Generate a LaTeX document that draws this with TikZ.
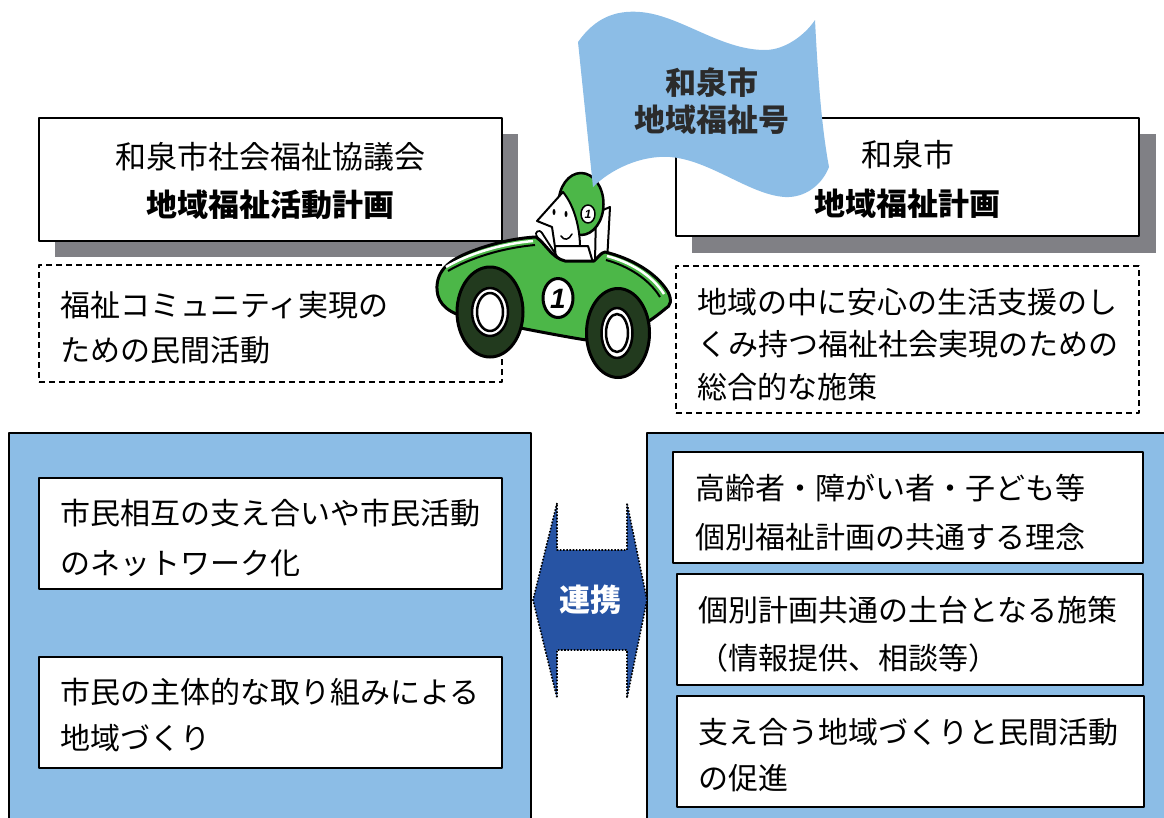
\documentclass[tikz,border=0pt]{standalone}
\usepackage{fontspec}
\newfontfamily\jp{Noto Sans CJK JP}
\newfontfamily\numfont{Liberation Sans}
\definecolor{lblue}{RGB}{140,189,230}
\definecolor{shadowgray}{RGB}{128,128,133}
\definecolor{cargreen}{RGB}{76,183,72}
\definecolor{tire}{RGB}{34,58,30}
\definecolor{linkblue}{RGB}{39,84,164}
\definecolor{flagink}{RGB}{43,43,43}
% strut giving every text line the same height and depth
\newcommand\lnstrut{\rule[-0.12em]{0pt}{1em}}
\begin{document}
\begin{tikzpicture}[x=1pt,y=-1pt,line join=round,
  every node/.style={inner sep=0pt,outer sep=0pt},
  plainbox/.style={draw=black,line width=1.8pt,fill=white},
  dashbox/.style={draw=black,line width=1.5pt,dash pattern=on 6pt off 4pt},
  panel/.style={draw=black,line width=1.5pt,fill=lblue},
  headtext/.style={font={\jp\fontsize{31}{#1}\selectfont},align=center},
  bodytext/.style={font={\jp\fontsize{30}{#1}\selectfont},align=left,anchor=west},
  outline/.style={draw=black,line width=2pt},
  numtext/.style={font={\numfont\bfseries\itshape\fontsize{#1}{#1}\selectfont}},
  dotborder/.style={draw=black,line width=1.6pt,dash pattern=on 1.6pt off 1.6pt}
]
\useasboundingbox (0,0) rectangle (1164,817);

% ---------- upper plans ----------
\fill[shadowgray] (55,134) rectangle (518,257);
\fill[shadowgray] (692,134) rectangle (1156,253);

\node[plainbox,minimum width=463pt,minimum height=123pt] (hdrL) at (270.5,179.5) {};
\node[headtext=48] (hdrLtext) at (270.5,181) {和泉市社会福祉協議会\\\bfseries 地域福祉活動計画};

\node[plainbox,minimum width=463pt,minimum height=118pt] (hdrR) at (907.5,177) {};
\node[headtext=49] (hdrRtext) at (907.5,179.5) {和泉市\\\bfseries 地域福祉計画};

\node[dashbox,minimum width=463pt,minimum height=117pt] (dashL) at (270.5,323.5) {};
\node[bodytext=45] (dashLtext) at (60,327.5) {\lnstrut 福祉コミュニティ実現の\\\lnstrut ための民間活動};

\node[dashbox,minimum width=463pt,minimum height=147pt] (dashR) at (907.5,339.5) {};
\node[bodytext=42.5] (dashRtext) at (697,344.5) {\lnstrut 地域の中に安心の生活支援のし\\\lnstrut くみ持つ福祉社会実現のための\\\lnstrut 総合的な施策};

% ---------- lower panels ----------
\draw[panel] (9,433) rectangle (531,830);
\draw[panel] (647,433) rectangle (1180,830);

\node[plainbox,minimum width=463pt,minimum height=111pt] (boxL1) at (270.5,533.5) {};
\node[bodytext=50] (boxL1text) at (60,538) {\lnstrut 市民相互の支え合いや市民活動\\\lnstrut のネットワーク化};

\node[plainbox,minimum width=463pt,minimum height=111pt] (boxL2) at (270.5,712.5) {};
\node[bodytext=46] (boxL2text) at (60,715) {\lnstrut 市民の主体的な取り組みによる\\\lnstrut 地域づくり};

\node[plainbox,minimum width=470pt,minimum height=111pt] (boxR1) at (908,507.5) {};
\node[bodytext=49] (boxR1text) at (695,512.5) {\lnstrut 高齢者・障がい者・子ども等\\\lnstrut 個別福祉計画の共通する理念};

\node[plainbox,minimum width=466pt,minimum height=111pt] (boxR2) at (910,629.5) {};
\node[bodytext=48] (boxR2text) at (698,634) {\lnstrut 個別計画共通の土台となる施策\\\lnstrut （情報提供、相談等）};

\node[plainbox,minimum width=467pt,minimum height=111pt] (boxR3) at (910.5,751.5) {};
\node[bodytext=46] (boxR3text) at (698,755) {\lnstrut 支え合う地域づくりと民間活動\\\lnstrut の促進};

% double-headed link between the panels
\path[fill=linkblue,dotborder] (557,503) -- (533,600) -- (557,698) -- (557,650) -- (627,650)
  -- (627,698) -- (647,600) -- (627,503) -- (627,550) -- (557,550) -- cycle;
\node[font={\jp\bfseries\fontsize{31}{31}\selectfont},text=white] (link) at (590,600) {連携};

% ---------- car and driver ----------
% seat back
\path[outline,fill=white] (596,213) -- (610,207) -- (607,262) -- (595,262) -- cycle;
% helmet
\path[outline,line width=2.5pt,fill=cargreen] (581,204) ellipse [x radius=22.5,y radius=31];
% face
\path[outline,fill=white] (563,192) -- (537,221) -- (552,227) -- (555,247) -- (580,247)
  .. controls (580,232) and (576,208) .. (563,192) -- cycle;
\fill (554,212) ellipse [x radius=1.5,y radius=3];
\fill (566,214) ellipse [x radius=1.5,y radius=3];
\draw[line width=1.5pt,line cap=round] (561,236) .. controls (564,241) and (569,240) .. (572,234);
% helmet badge
\path[outline,line width=1.5pt,fill=white] (588,214) ellipse [x radius=7,y radius=9];
\node[numtext=12] (helmetnum) at (588,214.5) {1};
% torso
\path[outline,fill=white] (555,246) -- (588,246) -- (594,266) -- (556,266) -- cycle;
% steering wheel
\draw[line width=8pt,line cap=round] (539,234) -- (557,262);
\draw[white,line width=4pt,line cap=round] (539,234) -- (557,262);
% body
\path[outline,line width=3pt,fill=cargreen] (437,290) .. controls (436,270) and (450,260) .. (470,252)
  .. controls (490,244) and (515,238) .. (536,237)
  .. controls (546,244) and (552,258) .. (565,261) -- (594,261)
  .. controls (599,256) and (601,253) .. (605,252)
  .. controls (630,258) and (656,272) .. (668,292)
  .. controls (672,300) and (671,306) .. (665,309)
  .. controls (640,330) and (610,345) .. (580,339)
  .. controls (550,334) and (510,326) .. (470,318)
  .. controls (450,314) and (438,305) .. (437,290) -- cycle;
% rim stripes along the top of the body
\draw[white,line width=2.5pt] (446,267) .. controls (468,254) and (500,244) .. (533,241);
\draw[line width=2pt] (448,271) .. controls (470,258) and (502,248) .. (535,245);
\draw[white,line width=2.5pt] (607,256) .. controls (630,262) and (652,275) .. (664,294);
\draw[line width=2pt] (606,260) .. controls (628,266) and (649,279) .. (660,297);
% wheels
\path[outline,line width=3pt,fill=tire] (490,312) ellipse [x radius=33,y radius=45];
\path[outline,line width=2.5pt,fill=white] (490,312) ellipse [x radius=18,y radius=24];
\path[outline,line width=2.5pt,fill=white] (490,312) ellipse [x radius=13,y radius=19];
\path[outline,line width=3pt,fill=tire] (618,333) ellipse [x radius=31.5,y radius=44.5];
\path[outline,line width=2.5pt,fill=white] (617,333) ellipse [x radius=15.5,y radius=25];
\path[outline,line width=2.5pt,fill=white] (617,333) ellipse [x radius=11,y radius=19];
% race number
\path[outline,line width=3pt,fill=white] (558,298) ellipse [x radius=15,y radius=19.5];
\node[numtext=28] (carnum) at (558,299) {1};

% ---------- flag ----------
\fill[lblue] (578,42) .. controls (595,18) and (615,10) .. (640,12)
  .. controls (680,15) and (720,50) .. (765,50)
  .. controls (785,50) and (805,35) .. (815,20)
  .. controls (818,80) and (822,130) .. (829,167)
  .. controls (822,185) and (805,198) .. (785,197)
  .. controls (750,195) and (710,160) .. (670,157)
  .. controls (640,155) and (610,170) .. (593,187) -- cycle;
\node[font={\jp\bfseries\fontsize{31}{37}\selectfont},text=flagink,align=center] (flagtitle) at (712,101.5) {和泉市\\地域福祉号};
\end{tikzpicture}
\end{document}
